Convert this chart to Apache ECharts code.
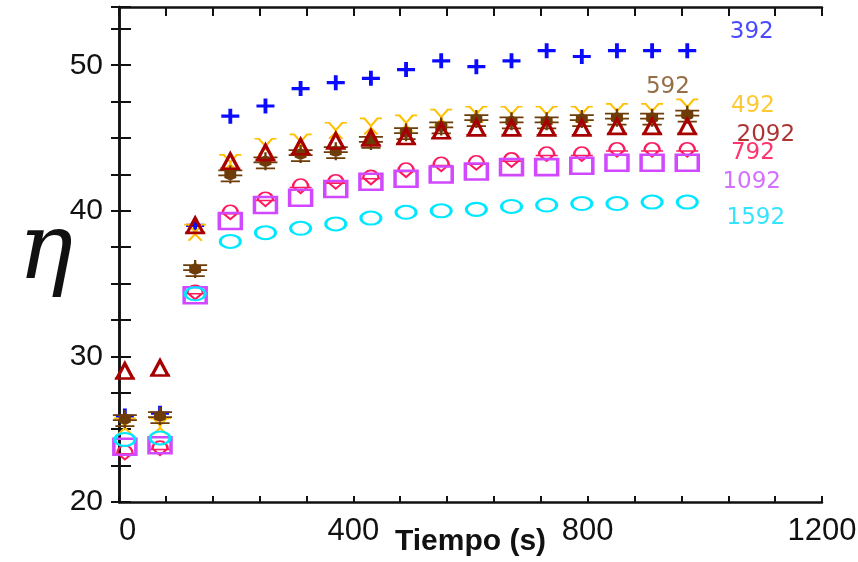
<!DOCTYPE html>
<html>
<head>
<meta charset="utf-8">
<script src="https://cdn.jsdelivr.net/npm/echarts@6/dist/echarts.min.js"></script>
<style>html,body{margin:0;padding:0;background:#fff}#chart{width:858px;height:562px}</style>
</head>
<body>
<div id="chart"></div>
<script>
// ---- data ----
const times = [10, 70, 130, 190, 250, 310, 370, 430, 490, 550, 610, 670, 730, 790, 850, 910, 970];
const eta392  = [25.9, 26.1, 39.0, 46.5, 47.2, 48.4, 48.8, 49.1, 49.7, 50.3, 49.9, 50.3, 51.0, 50.6, 51.0, 51.0, 51.0];
const eta492  = [25.2, 25.2, 38.5, 43.3, 44.4, 44.7, 45.5, 45.8, 46.0, 46.4, 46.6, 46.6, 46.6, 46.6, 46.8, 46.8, 47.1];
const eta592  = [25.7, 25.9, 36.0, 42.5, 43.4, 43.9, 44.1, 44.8, 45.4, 45.8, 46.3, 46.15, 46.15, 46.3, 46.4, 46.4, 46.6];
const eta2092 = [29.0, 29.2, 39.0, 43.4, 44.0, 44.4, 44.8, 45.0, 45.1, 45.5, 45.7, 45.7, 45.7, 45.7, 45.8, 45.8, 45.8];
const eta792  = [23.4, 23.7, 34.4, 39.9, 40.8, 41.7, 42.0, 42.3, 42.8, 43.2, 43.3, 43.5, 43.9, 43.9, 44.2, 44.2, 44.2];
const eta1092 = [23.8, 23.9, 34.2, 39.3, 40.4, 40.9, 41.5, 42.0, 42.2, 42.5, 42.7, 43.0, 43.0, 43.1, 43.3, 43.3, 43.3];
const eta1592 = [24.3, 24.4, 34.3, 37.9, 38.5, 38.8, 39.1, 39.5, 39.9, 40.0, 40.1, 40.3, 40.4, 40.5, 40.5, 40.6, 40.6];
const seriesNames = ['392', '492', '592', '2092', '792', '1092', '1592'];
const labelTexts = ['392', '592', '492', '2092', '792', '1092', '1592'];
const labelTime  = [1080, 937, 1082, 1104, 1082, 1080, 1087];
const labelEta   = [52.3, 48.5, 47.2, 45.2, 44.0, 42.0, 39.5];
const xTickLabels = [0, 400, 800, 1200];
const yTickLabels = [20, 30, 40, 50];

// ---- styles ----
const colors = {
  '392': '#0a0aff', '492': '#ffc000', '592': '#6e3c08', '2092': '#a80000',
  '792': '#ff1a5e', '1092': '#d048ff', '1592': '#00e8ff'
};
const labelColors = {
  '392': '#1a1aff', '492': '#ffbb00', '592': '#7a4a16', '2092': '#990000',
  '792': '#ff0048', '1092': '#c84cff', '1592': '#00dcff'
};
const markers = {
  '392':  { symbol: 'path://M0,7L18,7M9,0L9,14', size: [18, 15], fill: 'rgba(0,0,0,0)', bw: 3.5 },
  '492':  { symbol: 'path://M0,1L4,1L10,8L16,1L20,1M10,8L10,10M4,16L10,10L16,16', size: [22, 16], fill: 'rgba(0,0,0,0)', bw: 2 },
  '592':  { symbol: 'path://M10,4L14,6L14,12L10,14L6,12L6,6ZM0,5L20,5M0,10L20,10M2,16L18,16M10,0L10,18', size: [24, 18], fill: null, bw: 2 },
  '2092': { symbol: 'path://M10,0L18,14L2,14ZM0,14L20,14', size: [20, 15], fill: 'rgba(0,0,0,0)', bw: 3 },
  '792':  { symbol: 'path://M3,8C3,0 17,0 17,8M0,8L20,8M4,8L10,12L16,8', size: [22, 14], fill: 'rgba(0,0,0,0)', bw: 2 },
  '1092': { symbol: 'rect', size: [22, 16], fill: 'rgba(0,0,0,0)', bw: 3 },
  '1592': { symbol: 'circle', size: [20, 13], fill: 'rgba(0,0,0,0)', bw: 2.5 }
};
const seriesData = { '392': eta392, '492': eta492, '592': eta592, '2092': eta2092, '792': eta792, '1092': eta1092, '1592': eta1592 };

const series = seriesNames.map(function (n) {
  const m = markers[n];
  return {
    name: n, type: 'scatter', clip: false,
    symbol: m.symbol, symbolSize: m.size,
    itemStyle: { color: m.fill || colors[n], borderColor: colors[n], borderWidth: m.bw, opacity: 1 },
    data: times.map(function (t, i) { return [t, seriesData[n][i]]; }),
    z: 3
  };
});
series.push({
  type: 'scatter', symbolSize: 0, clip: false, silent: true,
  data: labelTexts.map(function (s, i) {
    return { value: [labelTime[i], labelEta[i]], name: s, label: { color: labelColors[s] } };
  }),
  label: { show: true, position: 'inside', formatter: '{b}', fontFamily: 'DejaVu Sans', fontWeight: 'normal', fontSize: 23 },
  z: 4
});

const axisLine = { show: true, lineStyle: { color: '#111', width: 2.5 } };
const chart = echarts.init(document.getElementById('chart'));
chart.setOption({
  animation: false,
  backgroundColor: '#fff',
  grid: { left: 119, right: 36, top: 7, bottom: 60, outerBoundsMode: 'none', containLabel: false },
  xAxis: [{
    type: 'value', min: 0, max: 1200, interval: 80, position: 'bottom',
    axisLine: axisLine, splitLine: { show: false },
    axisTick: { show: true, inside: true, length: 6, lineStyle: { color: '#111', width: 2 } },
    axisLabel: {
      fontFamily: 'Liberation Sans, Arial', fontSize: 31, color: '#111', margin: 14,
      alignMinLabel: 'left',
      formatter: function (v) { return xTickLabels.indexOf(v) >= 0 ? String(v) : ''; }
    },
    name: 'Tiempo (s)', nameLocation: 'middle', nameGap: 25, nameMoveOverlap: false,
    nameTextStyle: { fontFamily: 'Liberation Sans, Arial', fontSize: 30, fontWeight: 'bold', color: '#111', verticalAlign: 'top' }
  }, {
    type: 'value', min: 0, max: 1200, interval: 80, position: 'top',
    axisLine: axisLine, splitLine: { show: false }, axisLabel: { show: false },
    axisTick: { show: true, inside: true, length: 9, lineStyle: { color: '#111', width: 2 } }
  }],
  yAxis: [{
    type: 'value', min: 20, max: 54, interval: 2.5, position: 'left',
    axisLine: axisLine, splitLine: { show: false },
    axisTick: { show: true, inside: true, length: 12, lineStyle: { color: '#111', width: 2 } },
    axisLabel: {
      fontFamily: 'Liberation Sans, Arial', fontSize: 30, color: '#111', margin: 16,
      formatter: function (v) { return yTickLabels.indexOf(v) >= 0 ? String(v) : ''; }
    },
    name: 'η', nameLocation: 'middle', nameRotate: 0, nameGap: 46, nameMoveOverlap: false,
    nameTextStyle: { fontFamily: 'DejaVu Serif', fontStyle: 'italic', fontSize: 92, color: '#111', padding: [34, 0, 0, 0] }
  }, {
    type: 'value', min: 20, max: 54, interval: 2.5, position: 'right',
    axisLine: axisLine, splitLine: { show: false }, axisLabel: { show: false },
    axisTick: { show: true, inside: true, length: 8, lineStyle: { color: '#111', width: 2 } }
  }],
  series: series
});
</script>
</body>
</html>
